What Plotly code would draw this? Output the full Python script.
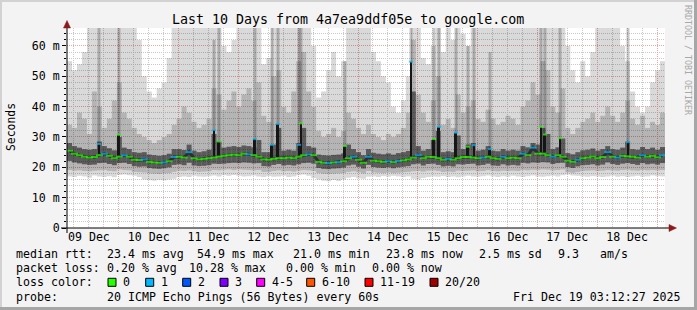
import pandas as pd
import plotly.graph_objects as go

# ---------------- data (2-hour steps) ----------------
med = [25.5, 24.5, 24.0, 23.5, 23.2, 23.4, 24.0, 24.5, 23.8, 23.0, 23.5, 24.0,
       23.5, 22.5, 22.4, 22.6, 21.8, 21.6, 21.5, 21.6, 22.0, 23.4, 23.5, 23.2,
       25.0, 23.0, 22.6, 22.8, 23.0, 23.2, 23.5, 23.8, 24.0, 24.2, 24.0, 24.5,
       24.3, 24.0, 23.5, 22.6, 22.5, 22.8, 23.0, 23.0, 23.2, 23.0, 23.5, 24.0,
       24.3, 24.0, 21.8, 21.5, 21.4, 21.6, 21.7, 22.0, 23.0, 23.5, 22.5, 21.5,
       23.5, 22.2, 22.0, 21.8, 22.0, 21.7, 22.1, 22.3, 22.6, 23.2, 24.0, 23.0,
       23.5, 23.4, 23.0, 22.5, 22.8, 22.5, 23.0, 23.4, 23.4, 23.2, 23.0, 23.2,
       23.5, 23.0, 22.8, 23.5, 23.0, 23.2, 23.0, 24.5, 24.0, 26.5, 24.5, 24.5,
       24.0, 23.5, 24.0, 23.5, 22.2, 21.8, 22.5, 23.0, 23.2, 23.6, 23.0, 23.4,
       25.0, 23.5, 23.2, 23.8, 23.6, 23.5, 23.2, 24.0, 23.5, 23.8, 23.3, 24.0]

loss = [0, 0, 0, 0, 0, 0, 0, 1, 0, 0, 0, 1,
        0, 0, 0, 1, 0, 0, 0, 1, 0, 1, 0, 0,
        1, 0, 0, 0, 0, 0, 0, 0, 0, 0, 0, 0,
        1, 0, 0, 0, 0, 0, 0, 0, 0, 0, 0, 0,
        1, 0, 0, 0, 1, 0, 1, 0, 0, 1, 0, 0,
        1, 0, 0, 0, 1, 0, 1, 0, 0, 0, 1, 0,
        0, 0, 0, 0, 1, 0, 0, 0, 0, 0, 0, 1,
        0, 0, 0, 1, 0, 0, 0, 1, 0, 1, 0, 0,
        0, 1, 0, 0, 0, 0, 1, 0, 0, 0, 0, 0,
        1, 0, 1, 0, 0, 0, 0, 1, 0, 0, 0, 1]

lo = [17.0, 16.8, 17.2, 17.0, 16.6, 17.3, 17.0, 16.8, 17.1, 16.7, 17.5, 17.6,
      17.4, 17.2, 16.8, 16.0, 15.8, 15.6, 15.9, 15.7, 16.0, 16.2, 16.8, 17.0,
      16.8, 17.2, 17.0, 16.9, 17.1, 17.3, 17.0, 17.4, 17.2, 17.5, 17.2, 17.0,
      17.1, 17.3, 17.0, 16.8, 17.1, 16.9, 17.0, 17.2, 16.8, 17.0, 17.4, 17.6,
      17.2, 16.5, 16.0, 15.6, 15.4, 15.8, 15.5, 16.0, 16.6, 16.8, 16.4, 16.2,
      16.9, 17.0, 16.8, 17.1, 16.9, 17.2, 17.0, 16.8, 17.0, 16.2, 16.0, 16.5,
      16.8, 17.0, 16.9, 17.1, 16.8, 17.0, 16.7, 17.0, 17.2, 17.0, 16.9, 17.1,
      17.3, 17.0, 16.8, 17.1, 16.9, 17.2, 17.0, 16.8, 17.1, 17.3, 17.0, 16.9,
      17.1, 17.2, 17.0, 17.4, 17.6, 17.3, 17.2, 17.0, 16.9, 17.1, 17.0, 16.8,
      17.0, 17.2, 16.9, 17.1, 16.8, 17.0, 17.2, 16.9, 17.0, 17.3, 17.1, 17.0]

p10 = [19.1, 18.9, 19.0, 18.8, 18.7, 18.9, 19.0, 19.1, 18.8, 18.7, 19.3, 19.1,
       19.0, 18.5, 18.4, 18.3, 18.0, 17.9, 17.8, 18.0, 18.1, 18.5, 18.9, 18.8,
       19.0, 18.7, 18.5, 18.6, 18.7, 19.1, 19.0, 19.2, 19.3, 19.1, 19.3, 19.2,
       19.1, 19.0, 19.1, 18.5, 18.5, 18.8, 19.0, 18.7, 18.8, 18.6, 18.9, 19.1,
       19.0, 18.8, 18.1, 17.9, 17.8, 17.9, 18.0, 18.1, 18.5, 18.7, 18.4, 18.0,
       18.8, 18.3, 18.2, 18.1, 18.3, 18.1, 18.2, 18.4, 18.5, 18.7, 18.8, 18.6,
       18.9, 19.0, 18.8, 18.5, 18.6, 18.5, 18.9, 18.8, 18.9, 19.0, 18.7, 18.8,
       19.1, 18.8, 18.7, 18.9, 18.8, 18.9, 18.8, 19.1, 19.0, 19.2, 19.1, 19.3,
       19.2, 19.0, 19.1, 19.3, 18.4, 18.2, 18.5, 18.8, 18.9, 19.0, 18.8, 18.9,
       19.1, 19.0, 18.9, 19.1, 19.2, 19.0, 18.9, 19.1, 19.0, 19.1, 19.0, 19.1]

p25 = [22.1, 21.6, 21.3, 21.0, 20.8, 20.9, 21.4, 21.5, 21.1, 20.7, 21.4, 21.5,
       21.1, 20.4, 20.2, 20.3, 19.8, 19.6, 19.5, 19.7, 20.0, 20.8, 21.0, 20.7,
       21.5, 20.6, 20.4, 20.5, 20.7, 21.2, 21.1, 21.2, 21.4, 21.5, 21.4, 21.6,
       21.5, 21.3, 21.4, 20.4, 20.3, 20.8, 21.1, 20.6, 20.8, 20.6, 21.0, 21.4,
       21.5, 21.2, 19.8, 19.5, 19.4, 19.6, 19.7, 19.9, 20.6, 20.9, 20.2, 19.6,
       20.8, 20.1, 19.9, 19.8, 20.0, 19.7, 20.0, 20.2, 20.4, 21.0, 21.2, 20.6,
       21.1, 21.2, 20.8, 20.3, 20.5, 20.3, 21.0, 20.9, 21.1, 21.2, 20.6, 20.8,
       21.2, 20.6, 20.5, 21.0, 20.6, 20.8, 20.6, 21.5, 21.3, 21.6, 21.5, 21.7,
       21.6, 21.1, 21.4, 21.5, 20.1, 19.8, 20.3, 20.7, 20.8, 21.0, 20.6, 20.9,
       21.6, 21.1, 20.8, 21.2, 21.4, 21.1, 20.8, 21.4, 21.0, 21.2, 20.9, 21.4]

p75 = [28.0, 27.0, 26.5, 26.0, 25.8, 26.0, 28.5, 27.0, 26.3, 25.6, 30.0, 26.5,
       26.0, 25.0, 24.8, 25.0, 24.2, 24.0, 23.8, 24.0, 24.5, 26.0, 26.0, 25.7,
       27.5, 25.5, 25.0, 25.3, 25.8, 31.0, 28.5, 26.5, 26.8, 27.0, 26.7, 27.2,
       27.0, 26.6, 29.0, 25.0, 25.0, 27.5, 33.0, 25.5, 25.8, 25.5, 28.0, 33.0,
       27.0, 26.5, 24.2, 24.0, 23.9, 24.1, 24.2, 24.6, 27.5, 26.0, 25.0, 24.0,
       26.0, 24.8, 24.5, 24.3, 24.6, 24.2, 24.7, 25.0, 25.4, 45.0, 27.0, 25.5,
       26.0, 29.0, 32.0, 25.0, 25.3, 25.0, 30.5, 26.0, 27.5, 28.0, 25.5, 25.8,
       27.0, 25.5, 25.3, 26.0, 25.5, 25.8, 25.5, 27.0, 26.6, 28.0, 27.5, 33.0,
       31.0, 26.0, 26.6, 29.5, 24.7, 24.3, 25.0, 25.6, 25.8, 26.2, 25.5, 26.0,
       27.0, 26.0, 25.8, 26.5, 28.5, 26.0, 25.8, 26.7, 26.0, 26.5, 25.8, 26.7]

p90 = [34, 33, 38, 36, 31, 45, 40, 33, 36, 42, 48, 38,
       36, 33, 31, 30, 29, 28, 29, 30, 31, 34, 36, 40,
       38, 35, 33, 34, 36, 46, 44, 39, 42, 45, 40, 44,
       46, 42, 48, 37, 35, 50, 52, 40, 38, 45, 55, 58,
       45, 40, 32, 30, 31, 33, 30, 32, 38, 36, 33, 31,
       34, 31, 30, 29, 31, 30, 31, 33, 38, 62, 44, 38,
       35, 42, 50, 34, 36, 33, 44, 38, 40, 42, 36, 35,
       39, 36, 34, 35, 37, 36, 34, 40, 42, 48, 44, 55,
       52, 40, 38, 46, 33, 31, 33, 35, 36, 38, 35, 37,
       40, 37, 35, 38, 42, 36, 34, 37, 33, 35, 34, 38]

hi = [55, 52, 54, 58, 70, 70, 70, 70, 66, 70, 70, 70,
      70, 70, 62, 50, 45, 43, 46, 48, 56, 70, 70, 70,
      70, 70, 70, 70, 70, 70, 70, 60, 58, 62, 66, 70,
      70, 70, 70, 54, 56, 70, 70, 70, 70, 70, 70, 70,
      70, 60, 43, 45, 52, 58, 50, 55, 70, 70, 70, 70,
      70, 58, 55, 50, 48, 40, 38, 42, 50, 70, 70, 56,
      54, 60, 70, 58, 70, 62, 70, 64, 60, 70, 70, 70,
      70, 70, 70, 70, 70, 70, 70, 70, 70, 70, 70, 70,
      70, 70, 70, 70, 60, 52, 48, 55, 50, 58, 70, 70,
      70, 70, 66, 60, 55, 45, 40, 38, 40, 48, 52, 55]

# short-lived median spikes (single samples)
spike_times = ["2025-12-09 16:03", "2025-12-10 00:04", "2025-12-11 14:12",
               "2025-12-11 16:12", "2025-12-12 06:39", "2025-12-12 13:28",
               "2025-12-12 15:53", "2025-12-13 00:19", "2025-12-13 01:07",
               "2025-12-13 18:46", "2025-12-14 21:16", "2025-12-15 06:29",
               "2025-12-15 08:30", "2025-12-15 15:19", "2025-12-15 20:08",
               "2025-12-15 22:33", "2025-12-16 04:58", "2025-12-17 01:26",
               "2025-12-17 03:02", "2025-12-17 09:04", "2025-12-18 12:21"]
spike_top = [27.7, 30.7, 32.3, 28.5, 29.3, 27.4, 34.3, 27.4, 34.5, 27.0, 54.8,
             29.3, 33.3, 31.4, 26.8, 27.3, 26.0, 33.3, 30.8, 29.6, 28.3]
spike_base = [24.0, 23.5, 23.2, 23.5, 23.5, 22.8, 23.0, 23.5, 24.0, 23.0, 23.2,
              23.4, 23.0, 23.0, 23.4, 23.2, 23.5, 24.5, 24.0, 23.5, 23.6]
spike_loss = [1, 0, 1, 0, 1, 1, 1, 1, 0, 0, 1, 0, 1, 1, 0, 1, 1, 0, 0, 0, 1]
spike_smoke_top = [70, 70, 62, 70, 70, 70, 70, 70, 70, 55, 70,
                   70, 70, 70, 60, 70, 58, 70, 70, 70, 66]

day_labels = ["09 Dec", "10 Dec", "11 Dec", "12 Dec", "13 Dec",
              "14 Dec", "15 Dec", "16 Dec", "17 Dec", "18 Dec"]
y_tick_vals = [0, 10, 20, 30, 40, 50, 60]
y_tick_text = ["0", "10 m", "20 m", "30 m", "40 m", "50 m", "60 m"]

loss_labels = ["0", "1", "2", "3", "4-5", "6-10", "11-19", "20/20"]
loss_colors = ["#26ff00", "#00b8ff", "#0059ff", "#7e00ff",
               "#ff00ff", "#ff5500", "#ff0000", "#a10000"]

title_text = "Last 10 Days from 4a7ea9ddf05e to google.com"

# ---------------- time grid ----------------
start = pd.Timestamp("2025-12-09 03:12:27")
end = pd.Timestamp("2025-12-19 03:12:27")
step = pd.Timedelta(hours=2)
n = len(med)
t_mid = [start + step * (i + 0.5) for i in range(n)]
step_ms = step.total_seconds() * 1000
noons = list(pd.date_range("2025-12-09 12:00", periods=len(day_labels), freq="D"))
midnights = list(pd.date_range("2025-12-10 00:00", periods=len(day_labels), freq="D"))
spike_t = [pd.Timestamp(s) for s in spike_times]

fig = go.Figure()


def band(x, lower, upper, color, width):
    fig.add_trace(go.Bar(
        x=x, base=lower, y=[u - l for u, l in zip(upper, lower)],
        width=width, marker=dict(color=color, line=dict(width=0)),
        hoverinfo="skip"))


band(t_mid, lo, hi, "rgba(0,0,0,0.15)", step_ms)
band(t_mid, p10, p90, "rgba(0,0,0,0.17)", step_ms)
band(t_mid, p25, p75, "rgba(0,0,0,0.5)", step_ms)
# smoke streak above each spike
band(spike_t, spike_top, spike_smoke_top, "rgba(0,0,0,0.22)", 1.2 * 3600 * 1000)

# dark core along the median (on the 6-hour grid axis)
fig.add_trace(go.Scatter(
    x=t_mid, y=med, mode="lines", xaxis="x2", yaxis="y",
    line=dict(color="#2e2e2e", width=3), hoverinfo="skip"))

# spikes of the median
fig.add_trace(go.Bar(
    x=spike_t, base=spike_base, y=[t - b for t, b in zip(spike_top, spike_base)],
    width=0.8 * 3600 * 1000, xaxis="x2", yaxis="y",
    marker=dict(color="#151515", line=dict(width=0)), hoverinfo="skip"))

# median coloured by packet loss (on the midnight grid axis)
fig.add_trace(go.Scatter(
    x=t_mid + spike_t, y=med + spike_top, mode="markers", xaxis="x3", yaxis="y",
    marker=dict(symbol="line-ew", size=[5] * n + [3] * len(spike_t),
                line=dict(width=2, color=[loss_colors[v] for v in loss + spike_loss])),
    hoverinfo="skip"))

MONO = "DejaVu Sans Mono"
RED_GRID = "#eaa8a8"
GRAY_GRID = "#c9c9c9"
DOT = "1px,1px"

fig.update_layout(
    width=697, height=310,
    margin=dict(l=67, r=32, t=28, b=82),
    paper_bgcolor="#f3f3f3", plot_bgcolor="#ffffff",
    showlegend=False, barmode="overlay",
    font=dict(family=MONO, size=11.6, color="black"),
    xaxis=dict(type="date", range=[start, end], tickmode="array",
               tickvals=noons, ticktext=day_labels, showgrid=False,
               ticks="", showline=False, zeroline=False,
               tickfont=dict(family=MONO, size=11.6, color="black")),
    xaxis2=dict(type="date", range=[start, end], overlaying="x", anchor="y",
                tickmode="linear", tick0="2025-12-09 00:00",
                dtick=6 * 3600 * 1000, showticklabels=False,
                showgrid=True, gridcolor=GRAY_GRID, griddash=DOT, gridwidth=1,
                ticks="", showline=False, zeroline=False),
    xaxis3=dict(type="date", range=[start, end], overlaying="x", anchor="y",
                tickmode="array", tickvals=midnights, showticklabels=False,
                showgrid=True, gridcolor=RED_GRID, griddash=DOT, gridwidth=1,
                ticks="", showline=False, zeroline=False),
    yaxis=dict(range=[0, 65.93], tickmode="array", tickvals=y_tick_vals,
               ticktext=y_tick_text, showgrid=True, gridcolor=RED_GRID,
               griddash=DOT, gridwidth=1, showline=False, zeroline=False,
               ticks="outside", ticklen=4, tickcolor="black",
               tickfont=dict(family=MONO, size=11.6, color="black"),
               minor=dict(tickmode="linear", tick0=0, dtick=2, showgrid=True,
                          gridcolor=GRAY_GRID, griddash=DOT, gridwidth=1,
                          ticks="outside", ticklen=2, tickcolor="black")),
)

# pixel -> paper helpers
PL, PR, PT, PB = 67, 665, 28, 228


def px(x):
    return (x - PL) / (PR - PL)


def py(y):
    return (PB - y) / (PB - PT)


annotations = []


def text(x, y, s, size=11.6, anchor="left", color="black", angle=0, font=MONO):
    annotations.append(dict(
        x=px(x), y=py(y), xref="paper", yref="paper", text=s, showarrow=False,
        xanchor=anchor, yanchor="middle", textangle=angle, borderpad=0,
        font=dict(family=font, size=size, color=color)))


text(347.5, 19, title_text, size=13.3, anchor="center")
text(11, 127, "Seconds", size=11.4, anchor="center", angle=-90)
text(688, 60, "RRDTOOL / TOBI OETIKER", size=8.3, anchor="center",
     color="#a8a8a8", angle=90)

row_y = [254.3, 268.3, 282.3, 296.7]
row1 = [(16, "median rtt:"), (107.3, "23.4 ms avg"), (196.7, "54.9 ms max"),
        (292.7, "21.0 ms min"), (386, "23.8 ms now"), (479, "2.5 ms sd"),
        (558.3, "9.3"), (600, "am/s")]
row2 = [(16, "packet loss:"), (107.3, "0.20 % avg"), (189, "10.28 % max"),
        (285.7, "0.00 % min"), (372.3, "0.00 % now")]
row4 = [(16, "probe:"), (107.3, "20 ICMP Echo Pings (56 Bytes) every 60s"),
        (513.3, "Fri Dec 19 03:12:27 2025")]
for xx, s in row1:
    text(xx - 1, row_y[0], s)
for xx, s in row2:
    text(xx - 1, row_y[1], s)
for xx, s in row4:
    text(xx - 1, row_y[3], s)
text(15, row_y[2], "loss color:")

box_x = [108, 145.7, 182.7, 220, 256.7, 306.7, 365, 430]
shapes = []
for bx, lab, col in zip(box_x, loss_labels, loss_colors):
    shapes.append(dict(type="rect", xref="paper", yref="paper",
                       x0=px(bx), x1=px(bx + 8), y0=py(row_y[2] + 4),
                       y1=py(row_y[2] - 4), fillcolor=col,
                       line=dict(color="black", width=1), layer="above"))
    text(bx + 14, row_y[2], lab)

# axis lines with arrows
shapes.append(dict(type="line", xref="paper", yref="paper", x0=px(61),
                   x1=px(670), y0=py(228), y1=py(228),
                   line=dict(color="black", width=1), layer="above"))
shapes.append(dict(type="line", xref="paper", yref="paper", x0=px(67),
                   x1=px(67), y0=py(233), y1=py(25),
                   line=dict(color="black", width=1), layer="above"))
shapes.append(dict(type="path", xref="paper", yref="paper",
                   path="M {} {} L {} {} L {} {} Z".format(
                       px(669), py(224.5), px(676.5), py(228), px(669), py(231.5)),
                   fillcolor="#8b1a1a", line=dict(color="#8b1a1a", width=0.5),
                   layer="above"))
shapes.append(dict(type="path", xref="paper", yref="paper",
                   path="M {} {} L {} {} L {} {} Z".format(
                       px(63.5), py(28), px(67), py(20.5), px(70.5), py(28)),
                   fillcolor="#8b1a1a", line=dict(color="#8b1a1a", width=0.5),
                   layer="above"))

# frame of the image (3D border)
frame = [((0, 0), (697, 2), "#d2d2d2"), ((0, 0), (2, 310), "#d2d2d2"),
         ((0, 307), (697, 310), "#a6a6a6"), ((694, 0), (697, 310), "#a6a6a6")]
for (x0, y0), (x1, y1), c in frame:
    shapes.append(dict(type="rect", xref="paper", yref="paper",
                       x0=px(x0), x1=px(x1), y0=py(y1), y1=py(y0),
                       fillcolor=c, line=dict(width=0), layer="above"))

fig.update_layout(annotations=annotations, shapes=shapes)
fig.write_html("out.html")
